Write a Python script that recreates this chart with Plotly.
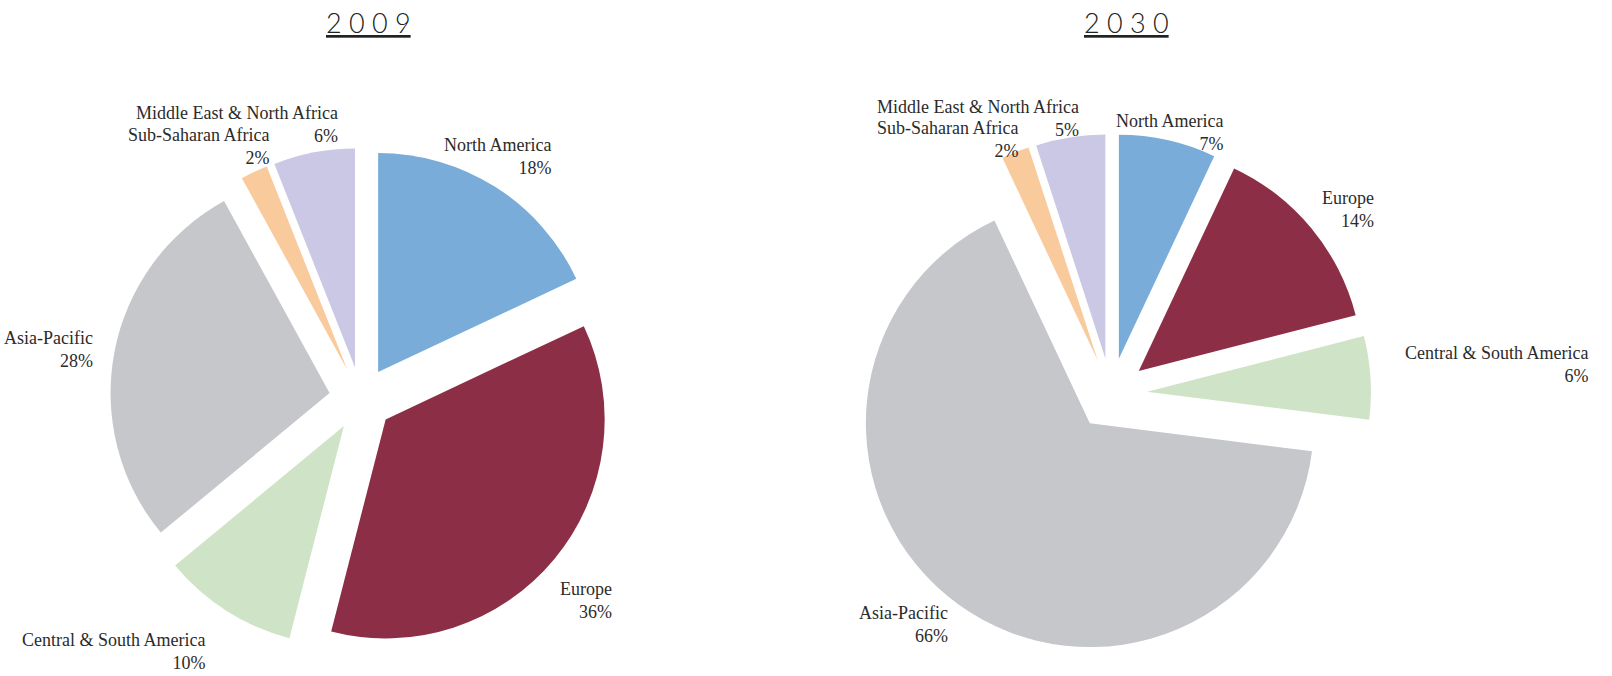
import plotly.graph_objects as go

# Regional shares, listed clockwise from 12 o'clock
regions = ["North America", "Europe", "Central & South America",
           "Asia-Pacific", "Sub-Saharan Africa", "Middle East & North Africa"]
share_2009 = [18, 36, 10, 28, 2, 6]
share_2030 = [7, 14, 6, 66, 2, 5]
years = ["2009", "2030"]

colors = ["#79ACD8", "#8B2E46", "#CFE4C7", "#C5C7CB", "#F9CA9B", "#CBC8E5"]

W, H = 1612, 676
SERIF = "Liberation Serif"
TXT = "#2b2b2b"


def px_domain(cx, cy, half):
    """Convert a square pie box centred at (cx, cy) in pixels to paper domains."""
    return dict(x=[(cx - half) / W, (cx + half) / W],
                y=[(H - cy - half) / H, (H - cy + half) / H])


fig = go.Figure()

fig.add_trace(go.Pie(
    labels=regions, values=share_2009, sort=False, direction="clockwise",
    rotation=0, pull=[0.146] * 6, textinfo="none", hoverinfo="label+percent",
    marker=dict(colors=colors, line=dict(width=0)), showlegend=False,
    domain=px_domain(361, 399, 251),
))
fig.add_trace(go.Pie(
    labels=regions, values=share_2030, sort=False, direction="clockwise",
    rotation=0, pull=[0.161] * 6, textinfo="none", hoverinfo="label+percent",
    marker=dict(colors=colors, line=dict(width=0)), showlegend=False,
    domain=px_domain(1111, 394, 260),
))

# label anchor points (right edge x, block centre y) in pixels
label_pos_2009 = [(552, 156), (613, 600), (206, 651), (94, 349), (270, 147), (339, 124)]
label_pos_2030 = [(1224, 133), (1375, 209), (1589, 364), (949, 624), (1019, 139), (1080, 118)]

annotations = []
for vals, positions in ((share_2009, label_pos_2009), (share_2030, label_pos_2030)):
    for name, v, (x, y) in zip(regions, vals, positions):
        annotations.append(dict(
            text=f"{name}<br>{v}%", x=x / W, y=1 - y / H, xref="paper", yref="paper",
            xanchor="right", yanchor="middle", align="right", showarrow=False,
            borderpad=0, font=dict(family=SERIF, size=18, color=TXT),
        ))

for year, cx in zip(years, (368, 1126)):
    annotations.append(dict(
        text=" ".join(year), x=cx / W, y=1 - 22 / H, xref="paper", yref="paper",
        xanchor="center", yanchor="middle", showarrow=False,
        font=dict(family="Lato", size=27, color="#222222", weight=300,
                  lineposition="under"),
    ))

fig.update_layout(
    width=W, height=H, margin=dict(l=0, r=0, t=0, b=0),
    paper_bgcolor="white", plot_bgcolor="white",
    annotations=annotations,
)

fig.write_html("out.html")
